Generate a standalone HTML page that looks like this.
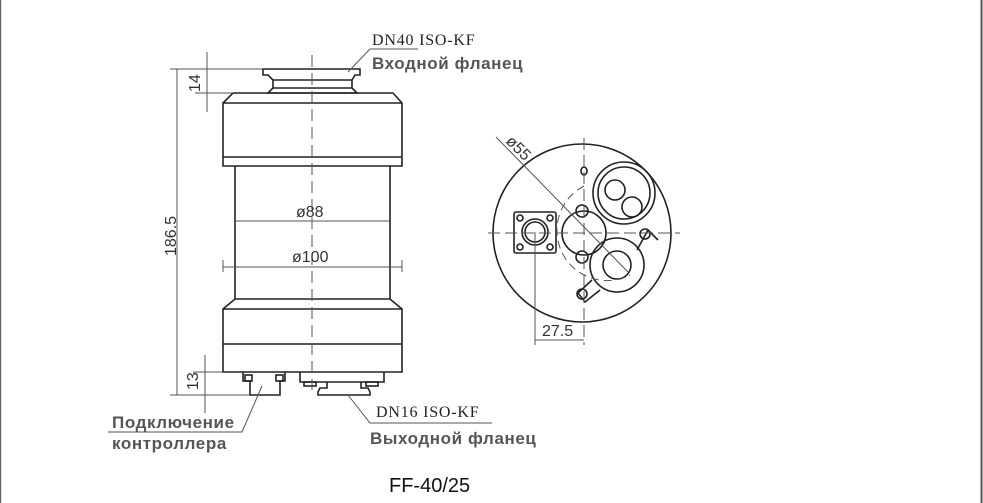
<!DOCTYPE html>
<html><head><meta charset="utf-8"><style>
html,body{margin:0;padding:0;background:#fff;}
body{width:983px;height:503px;overflow:hidden;}
svg{display:block}
.s{font-family:"Liberation Serif","Noto Serif CJK SC",serif;letter-spacing:0.8px;}
.b{font-family:"Liberation Sans","DejaVu Sans",sans-serif;font-weight:bold;fill:#555;letter-spacing:0.6px;}
.d{font-family:"Liberation Sans",sans-serif;fill:#333;}
</style></head><body>
<svg width="983" height="503" viewBox="0 0 983 503" xmlns="http://www.w3.org/2000/svg">
<line x1="0.5" y1="0" x2="0.5" y2="503" stroke="#666" stroke-width="1.5"/>
<line x1="981.5" y1="0" x2="981.5" y2="503" stroke="#555" stroke-width="2"/>
<g fill="none" stroke="#222" stroke-width="1.6">
<path d="M263 69 H360 V75 H355 L352 80 V88 L357 93 H268 L273 88 V80 L268 75 H263 Z"/>
<line x1="273" y1="80" x2="352" y2="80"/><line x1="273" y1="88" x2="352" y2="88"/>
<path d="M233 93 H393 L402 103 V166 H223 V103 Z"/>
<line x1="223" y1="103" x2="402" y2="103"/>
<line x1="223" y1="157" x2="402" y2="157"/>
<line x1="235" y1="166" x2="235" y2="299"/>
<line x1="390" y1="166" x2="390" y2="299"/>
<path d="M235 299 H390 L402 309 V372 H223 V309 Z"/>
<line x1="223" y1="309" x2="402" y2="309"/>
<line x1="223" y1="344" x2="402" y2="344"/>
<path d="M243 372 V381 H250 V395 H280 V381 H285 V372"/>
<rect x="245" y="375" width="7" height="6"/><rect x="276" y="375" width="7" height="6"/>
<path d="M300 372 V382 H384 V372"/>
<rect x="304" y="382" width="12" height="4"/><rect x="366" y="382" width="12" height="4"/>
<path d="M327 382 V388 H320 L318 392 V395 H370 V392 L368 388 H361 V382"/>
</g>
<g stroke="#555" stroke-width="1" fill="none">
<line x1="312" y1="55" x2="312" y2="390" stroke-dasharray="12 6"/>
<line x1="170" y1="69" x2="263" y2="69"/>
<line x1="170" y1="395" x2="250" y2="395"/>
<line x1="177" y1="69" x2="177" y2="395"/>
<line x1="195" y1="93" x2="233" y2="93"/>
<line x1="207" y1="52" x2="207" y2="112"/>
<line x1="193" y1="372" x2="223" y2="372"/>
<line x1="205" y1="355" x2="205" y2="413"/>
<line x1="235" y1="221" x2="390" y2="221"/>
<line x1="223" y1="267" x2="402" y2="267"/>
<line x1="223" y1="260" x2="223" y2="272"/><line x1="402" y1="260" x2="402" y2="272"/>
<polyline points="348,72 370,49 418,49"/>
<polyline points="262,386 242,432 108,432"/>
<polyline points="348,395 370,423 492,423"/>
</g>
<text x="372" y="45" class="s" font-size="16" fill="#222">DN40 ISO-KF</text>
<text x="372" y="69" class="b" font-size="17">Входной фланец</text>
<text x="376" y="417" class="s" font-size="16" fill="#222">DN16 ISO-KF</text>
<text x="370" y="444" class="b" font-size="17">Выходной фланец</text>
<text x="112" y="428" class="b" font-size="17">Подключение</text>
<text x="112" y="449" class="b" font-size="17">контроллера</text>
<text x="389" y="492" font-family="Liberation Sans,sans-serif" font-size="20" fill="#111">FF-40/25</text>
<text x="296" y="217" class="d" font-size="16">ø88</text>
<text x="292" y="262" class="d" font-size="16">ø100</text>
<text transform="translate(200,92) rotate(-90)" class="d" font-size="16">14</text>
<text transform="translate(198,390) rotate(-90)" class="d" font-size="16">13</text>
<text transform="translate(176,256) rotate(-90)" class="d" font-size="16">186.5</text>
<g fill="none" stroke="#222" stroke-width="1.6">
<circle cx="582" cy="233" r="89"/>
<circle cx="584" cy="233" r="22"/>
<circle cx="624" cy="193" r="31"/><circle cx="624" cy="193" r="26"/>
<circle cx="615" cy="190" r="10"/><circle cx="632" cy="207" r="10"/>
<path d="M592 280 L578 293 L585 302 L600 290"/>
<path d="M637 250 L648 230 L658 240"/>
<circle cx="617" cy="265" r="27"/><circle cx="617" cy="265" r="14"/>
<circle cx="582" cy="211" r="6"/><circle cx="582" cy="257" r="6"/>
<circle cx="582" cy="294" r="5"/><circle cx="645" cy="234" r="5"/>
<rect x="514" y="212" width="42" height="41" rx="2"/>
<circle cx="535" cy="232" r="13"/><circle cx="535" cy="232" r="10"/>
<circle cx="520" cy="218" r="3"/><circle cx="550" cy="218" r="3"/>
<circle cx="520" cy="247" r="3"/><circle cx="550" cy="247" r="3"/>
<ellipse cx="584" cy="171" rx="3" ry="4"/>
</g>
<g stroke="#555" stroke-width="1" fill="none">
<line x1="488" y1="233" x2="680" y2="233" stroke-dasharray="12 5"/>
<line x1="584" y1="138" x2="584" y2="345" stroke-dasharray="12 5"/>
<path d="M584 186 A47 47 0 1 0 630 275" stroke-dasharray="8 5"/>
<line x1="496" y1="137" x2="628" y2="272"/>
<line x1="535" y1="232" x2="535" y2="345"/>
<line x1="535" y1="340" x2="584" y2="340"/>
</g>
<text transform="translate(505,142) rotate(45)" class="d" font-size="16">ø55</text>
<text x="542" y="336" class="d" font-size="16">27.5</text>
</svg>
</body></html>
